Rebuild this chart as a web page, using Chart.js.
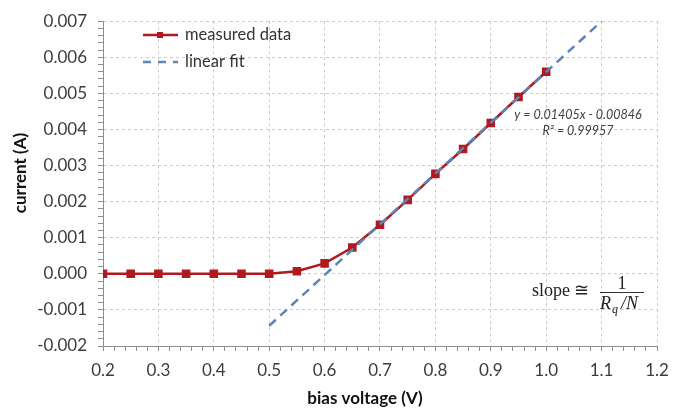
<!DOCTYPE html>
<html lang="en">
<head>
    <meta charset="UTF-8">
    <title>Bias voltage vs current</title>
    <script src="https://cdn.jsdelivr.net/npm/chart.js"></script>
    <style>
        html, body {
            margin: 0;
            padding: 0;
            background: #ffffff;
        }
        #chartContainer {
            width: 696px;
            height: 416px;
        }
    </style>
</head>
<body>
    <div id="chartContainer">
        <canvas id="ivChart"></canvas>
    </div>

    <script>
        // measured points (bias voltage in V, current in A)
        const voltage = [0.20, 0.25, 0.30, 0.35, 0.40, 0.45, 0.50, 0.55, 0.60,
                         0.65, 0.70, 0.75, 0.80, 0.85, 0.90, 0.95, 1.00];
        const current = [0, 0, 0, 0, 0, 0, 0, 0.00007, 0.00029,
                         0.00073, 0.00136, 0.00205, 0.00277, 0.00346, 0.00418, 0.00490, 0.00560];

        // end points of the linear fit line
        const fitVoltage = [0.5, 1.1];
        const fitCurrent = [-0.00144, 0.00700];

        const fitEquation = 'y = 0.01405x - 0.00846';
        const fitR2 = 'R² = 0.99957';

        const xTitle = 'bias voltage (V)';
        const yTitle = 'current (A)';
        const legendLabels = ['measured data', 'linear fit'];

        const RED = '#b01a1f';
        const BLUE = '#5a86b9';
        const TEXT = '#3c3c3c';
        const GRID = '#cccccc';
        const AXIS = '#8e8e8e';
        const SANS = 'Lato, "Open Sans", sans-serif';
        const SERIF = '"Liberation Serif", "DejaVu Serif", serif';

        const toPoints = (xs, ys) => xs.map((x, i) => ({ x: x, y: ys[i] }));

        function isMajor(v, per) {
            return Math.abs(v * per - Math.round(v * per)) < 1e-6;
        }

        // legend, fit text, slope formula and axis titles
        const extrasPlugin = {
            id: 'extras',
            afterDraw(chart) {
                const ctx = chart.ctx;
                ctx.save();

                // legend inside plot area
                ctx.strokeStyle = RED;
                ctx.lineWidth = 2.5;
                ctx.beginPath();
                ctx.moveTo(143, 35);
                ctx.lineTo(178, 35);
                ctx.stroke();
                ctx.fillStyle = RED;
                ctx.fillRect(157, 32, 6, 6);

                ctx.strokeStyle = BLUE;
                ctx.setLineDash([8, 7]);
                ctx.beginPath();
                ctx.moveTo(143, 62);
                ctx.lineTo(178, 62);
                ctx.stroke();
                ctx.setLineDash([]);

                ctx.fillStyle = '#333333';
                ctx.font = '16.5px ' + SANS;
                ctx.textAlign = 'left';
                ctx.textBaseline = 'middle';
                ctx.fillText(legendLabels[0], 185, 35);
                ctx.fillText(legendLabels[1], 185, 62);

                // fit equation
                ctx.fillStyle = '#404040';
                ctx.font = 'italic 12.5px ' + SANS;
                ctx.textAlign = 'center';
                ctx.fillText(fitEquation, 578, 115);
                ctx.fillText(fitR2, 578, 131);

                // slope formula
                ctx.fillStyle = '#222222';
                ctx.font = '18px ' + SERIF;
                ctx.textAlign = 'left';
                ctx.textBaseline = 'alphabetic';
                ctx.fillText('slope \u2245', 532, 296);
                ctx.textAlign = 'center';
                ctx.fillText('1', 622, 289);
                ctx.strokeStyle = '#333333';
                ctx.lineWidth = 1;
                ctx.beginPath();
                ctx.moveTo(600, 292.5);
                ctx.lineTo(644, 292.5);
                ctx.stroke();
                ctx.font = 'italic 18px ' + SERIF;
                ctx.textAlign = 'left';
                ctx.fillText('R', 600, 309);
                ctx.font = 'italic 12px ' + SERIF;
                ctx.fillText('q', 612, 313);
                ctx.font = 'italic 18px ' + SERIF;
                ctx.fillText('/N', 621, 309);

                // axis titles
                ctx.fillStyle = '#111111';
                ctx.font = 'bold 17px ' + SANS;
                ctx.textAlign = 'center';
                ctx.textBaseline = 'middle';
                ctx.fillText(xTitle, 365, 399);
                ctx.translate(21, 173);
                ctx.rotate(-Math.PI / 2);
                ctx.fillText(yTitle, 0, 0);

                ctx.restore();
            }
        };

        const ctx = document.getElementById('ivChart').getContext('2d');
        const chart = new Chart(ctx, {
            type: 'scatter',
            data: {
                datasets: [
                    {
                        label: legendLabels[1],
                        data: toPoints(fitVoltage, fitCurrent),
                        showLine: true,
                        borderColor: BLUE,
                        borderWidth: 2.5,
                        borderDash: [9, 6],
                        pointRadius: 0,
                        order: 0
                    },
                    {
                        label: legendLabels[0],
                        data: toPoints(voltage, current),
                        showLine: true,
                        borderColor: RED,
                        backgroundColor: RED,
                        borderWidth: 2.5,
                        pointStyle: 'rect',
                        pointRadius: 4.3,
                        tension: 0,
                        order: 1
                    }
                ]
            },
            options: {
                responsive: true,
                maintainAspectRatio: false,
                animation: false,
                layout: {
                    padding: { top: 11, right: 39, left: 0, bottom: 0 }
                },
                plugins: {
                    legend: { display: false },
                    tooltip: { enabled: false }
                },
                scales: {
                    x: {
                        type: 'linear',
                        min: 0.2,
                        max: 1.2,
                        afterFit(scale) { scale.height = 70; },
                        ticks: {
                            stepSize: 0.02,
                            autoSkip: false,
                            maxRotation: 0,
                            padding: 9,
                            color: TEXT,
                            font: { family: SANS, size: 17 },
                            callback: v => isMajor(v, 10) ? v.toFixed(1) : ''
                        },
                        grid: {
                            color: c => (c.tick && isMajor(c.tick.value, 10)) ? GRID : 'rgba(0,0,0,0)',
                            tickColor: AXIS,
                            tickLength: 5,
                            tickBorderDash: []
                        },
                        border: { display: true, color: AXIS, width: 1, dash: [3, 3] }
                    },
                    y: {
                        type: 'linear',
                        min: -0.002,
                        max: 0.007,
                        afterFit(scale) { scale.width = 103; },
                        ticks: {
                            stepSize: 0.0002,
                            autoSkip: false,
                            padding: 11,
                            color: TEXT,
                            font: { family: SANS, size: 17 },
                            callback: v => isMajor(v, 1000) ? v.toFixed(3) : ''
                        },
                        grid: {
                            color: c => (c.tick && isMajor(c.tick.value, 1000)) ? GRID : 'rgba(0,0,0,0)',
                            tickColor: AXIS,
                            tickLength: 5,
                            tickBorderDash: []
                        },
                        border: { display: true, color: AXIS, width: 1, dash: [3, 3] }
                    }
                }
            },
            plugins: [extrasPlugin]
        });
    </script>
</body>
</html>
